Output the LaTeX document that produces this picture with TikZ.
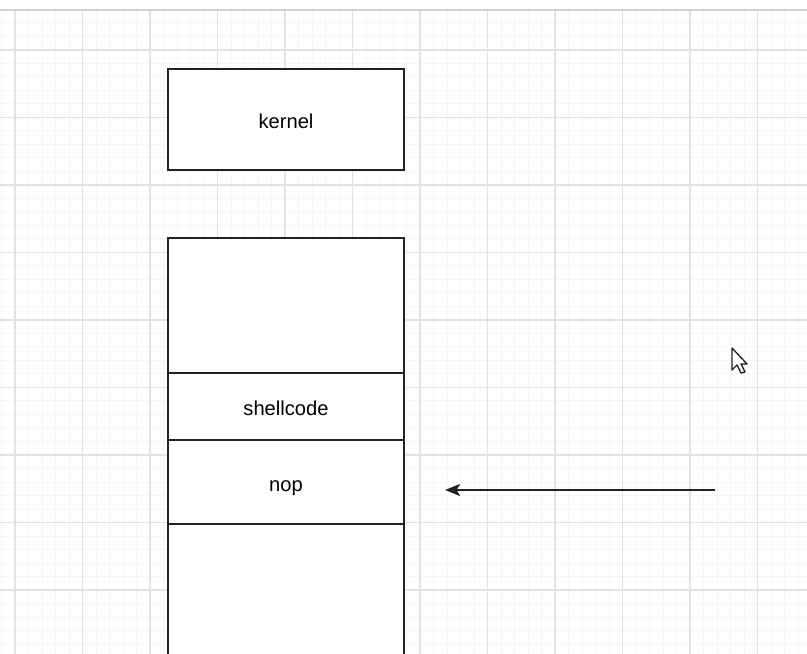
\documentclass[tikz,border=0pt]{standalone}
\usepackage{fontspec}
\setmainfont{Liberation Sans}
\usetikzlibrary{positioning,arrows.meta}
\definecolor{gridmajor}{HTML}{E2E2E2}
\definecolor{gridminor}{HTML}{F6F6F6}
\definecolor{edge}{HTML}{222222}

\begin{document}
\begin{tikzpicture}[x=0.03cm,y=-0.03cm,
    cell/.style={draw=edge, fill=white, line width=0.06cm, minimum width=7.08cm,
                 outer sep=0pt, inner sep=0pt, text height=16pt, text depth=0pt,
                 font=\fontsize{17.2}{20}\selectfont}]
   \useasboundingbox (0,0) rectangle (807,654);
   \clip (0,0) rectangle (807,654);

   % background grid
   \foreach \x in {1.5,15,...,807} \draw[gridminor, line width=0.03cm] (\x,10) -- (\x,654);
   \foreach \y in {23,36.5,...,654} \draw[gridminor, line width=0.03cm] (0,\y) -- (807,\y);
   \foreach \x in {15,82.5,...,807} \draw[gridmajor, line width=0.04cm] (\x,10) -- (\x,654);
   \foreach \y in {50,117.5,...,654} \draw[gridmajor, line width=0.04cm] (0,\y) -- (807,\y);
   \draw[gray!35, line width=0.05cm] (0,10) -- (807,10);

   % memory
   \node[cell, minimum height=3.03cm] (kernel) at (286,119.5) {kernel};
   \node[cell, minimum height=4.05cm] (free) at (286,305.5) {};
   \node[cell, minimum height=2.01cm, below=0pt of free] (shell) {shellcode};
   \node[cell, minimum height=2.52cm, below=0pt of shell] (nop) {nop};
   \node[cell, minimum height=5.4cm, below=0pt of nop] (rest) {};

   % jump into the sled
   \coordinate (src) at (715,490);
   \coordinate (tip) at (445,490);
   \draw[-{Stealth[length=0.45cm,width=0.36cm,inset=0.1cm]}, edge, line width=0.065cm] (src) -- (tip);

   % mouse pointer
   \draw[edge, fill=white, line width=0.04cm, line join=round, shift={(732,348)}]
      (0,0) -- (0,22) -- (5,17) -- (9,25) -- (13,24) -- (9,16) -- (15,16) -- cycle;
\end{tikzpicture}
\end{document}
